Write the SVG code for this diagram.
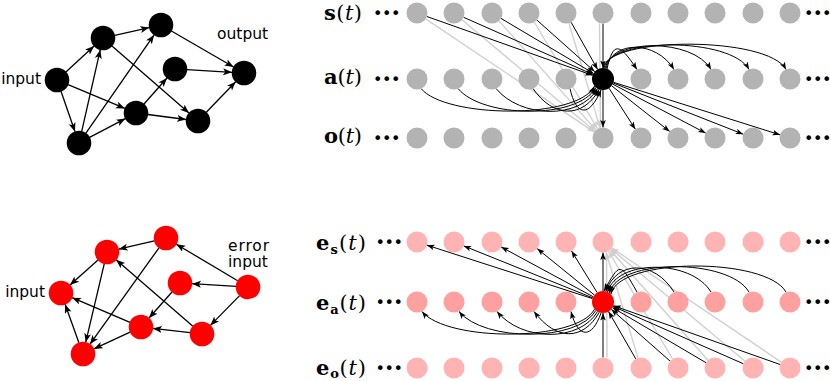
<svg xmlns="http://www.w3.org/2000/svg" width="830" height="381" viewBox="0 0 830 381">
<style>
.lbl{font-family:"DejaVu Sans",sans-serif;font-size:15.5px;fill:#000}
.math{font-family:"DejaVu Serif",serif;font-size:21px;fill:#000}
.bf{font-weight:bold}
.it{font-style:italic}
.dots{font-family:"DejaVu Sans",sans-serif;font-size:16px;fill:#000;letter-spacing:-0.4px}
.gn{fill:#b3b3b3}
.pn{fill:#ffb3b3}
.pa{fill:#ffa0a0}
.L{stroke:#000;stroke-width:1.3;fill:none;marker-end:url(#ahL)}
.k{stroke:#000;stroke-width:1;fill:none;marker-end:url(#ah)}
.g{stroke:#d0d0d0;stroke-width:1.4;fill:none;marker-end:url(#ahg)}
</style>
<defs>
<marker id="ahL" markerUnits="userSpaceOnUse" markerWidth="10" markerHeight="8" refX="9" refY="3.5" orient="auto"><path d="M0,0 L9,3.5 L0,7 L2.2,3.5 z" fill="#000"/></marker>
<marker id="ah" markerUnits="userSpaceOnUse" markerWidth="9" markerHeight="7" refX="7.5" refY="2.8" orient="auto"><path d="M0,0 L7.5,2.8 L0,5.6 L1.8,2.8 z" fill="#000"/></marker>
<marker id="ahg" markerUnits="userSpaceOnUse" markerWidth="9" markerHeight="7" refX="7.5" refY="2.8" orient="auto"><path d="M0,0 L7.5,2.8 L0,5.6 L1.8,2.8 z" fill="#cfcfcf"/></marker>
</defs>

<!-- left graphs: connectors -->
<g id="connectors-left">
<line class="L" x1="65.9" y1="71.9" x2="94.1" y2="46.1"/>
<line class="L" x1="68.1" y1="84.6" x2="124.9" y2="108.4"/>
<line class="L" x1="61" y1="91.3" x2="75" y2="131.7"/>
<line class="L" x1="81.7" y1="131.3" x2="100.3" y2="49.7"/>
<line class="L" x1="85.9" y1="133.1" x2="154.1" y2="34.9"/>
<line class="L" x1="89.6" y1="137.4" x2="125.4" y2="118.6"/>
<line class="L" x1="114.7" y1="35.4" x2="149.3" y2="27.6"/>
<line class="L" x1="112" y1="45.9" x2="189" y2="113.1"/>
<line class="L" x1="171.4" y1="31" x2="233.6" y2="67"/>
<line class="L" x1="144" y1="104" x2="167" y2="78"/>
<line class="L" x1="147.9" y1="114.5" x2="186.1" y2="119.5"/>
<line class="L" x1="187" y1="69.7" x2="232" y2="72.3"/>
<line class="L" x1="206.3" y1="112.3" x2="235.7" y2="81.7"/>

<line class="L" x1="98" y1="260" x2="70" y2="285"/>
<line class="L" x1="130" y1="322.3" x2="72.1" y2="297.7"/>
<line class="L" x1="78.9" y1="342.7" x2="65.1" y2="304.3"/>
<line class="L" x1="104.3" y1="263.7" x2="85.7" y2="342.3"/>
<line class="L" x1="159" y1="247.8" x2="90" y2="344.2"/>
<line class="L" x1="130.1" y1="332.1" x2="93.9" y2="348.9"/>
<line class="L" x1="154.3" y1="240.8" x2="118.7" y2="249.2"/>
<line class="L" x1="192.9" y1="326.2" x2="116.1" y2="259.8"/>
<line class="L" x1="237.7" y1="280.8" x2="176.3" y2="244.2"/>
<line class="L" x1="172" y1="292" x2="149" y2="318"/>
<line class="L" x1="190.1" y1="332.6" x2="152.9" y2="328.4"/>
<line class="L" x1="236" y1="286.3" x2="192" y2="283.7"/>
<line class="L" x1="239.6" y1="295.6" x2="210.4" y2="325.4"/>
</g>

<!-- right grids: connectors -->
<g id="connectors-right">
<!-- top: grey s_i -> o6 -->
<line class="g" x1="425.7" y1="18.9" x2="594.3" y2="132.1"/>
<line class="g" x1="462" y1="19.8" x2="595" y2="131.2"/>
<line class="g" x1="499" y1="20.9" x2="596" y2="130.1"/>
<line class="g" x1="534.3" y1="22" x2="597.7" y2="129"/>
<line class="g" x1="569" y1="23.1" x2="600" y2="127.9"/>
<line class="g" x1="599.5" y1="23.5" x2="600.5" y2="127.5"/>
<!-- top: s_i -> C -->
<line class="k" x1="426.9" y1="16.5" x2="592.6" y2="75.3"/>
<line class="k" x1="463.6" y1="17.3" x2="593" y2="74.5"/>
<line class="k" x1="501" y1="18.4" x2="593.5" y2="73.4"/>
<line class="k" x1="536.8" y1="20" x2="594.8" y2="71.7"/>
<line class="k" x1="571.1" y1="22.2" x2="597.6" y2="69.4"/>
<line class="k" x1="603" y1="23.5" x2="603" y2="68"/>
<!-- top: a_i -> C curves -->
<path class="k" d="M421,88.5 C445,118 577,120 594.6,86.1"/>
<path class="k" d="M458,88.5 C482,118 578,120 595.9,87.4"/>
<path class="k" d="M496,88.5 C520,118 580,120 597.5,88.5"/>
<path class="k" d="M533,88.5 C553,118 583,119 599.2,89.3"/>
<path class="k" d="M570,88.5 C576,116 589,118 601.1,89.8"/>
<!-- top: C -> a_j arcs -->
<path class="k" d="M607,69 C613,42 619,42 637,69.5"/>
<path class="k" d="M606,68.6 C612,40 656,40 674,69.5"/>
<path class="k" d="M605,68.3 C611,38 693,38 711,69.5"/>
<path class="k" d="M604,68.1 C610,37 731,37 749,69.5"/>
<path class="k" d="M603,68 C609,36 768,36 786,69.5"/>
<!-- top: C -> o_j -->
<line class="k" x1="603" y1="90" x2="603" y2="127.5"/>
<line class="k" x1="609" y1="88.2" x2="635.3" y2="129.2"/>
<line class="k" x1="611.6" y1="85.8" x2="669.7" y2="131.5"/>
<line class="k" x1="612.7" y1="84.1" x2="705.7" y2="133.1"/>
<line class="k" x1="613.2" y1="83" x2="743.2" y2="134.2"/>
<line class="k" x1="613.5" y1="82.3" x2="780" y2="134.8"/>

<!-- bottom: grey eo_j -> es6 -->
<line class="g" x1="607" y1="357.5" x2="606.5" y2="253"/>
<line class="g" x1="638" y1="357.9" x2="606" y2="252"/>
<line class="g" x1="672.6" y1="359" x2="608.4" y2="251"/>
<line class="g" x1="708" y1="360.2" x2="610" y2="249.8"/>
<line class="g" x1="745" y1="361.2" x2="611" y2="248.8"/>
<line class="g" x1="781.3" y1="362.1" x2="611.7" y2="247.9"/>
<!-- bottom: R -> es_i -->
<line class="k" x1="592.5" y1="298.6" x2="427" y2="245.2"/>
<line class="k" x1="592.8" y1="297.9" x2="463.7" y2="245.9"/>
<line class="k" x1="593.3" y1="296.8" x2="501.2" y2="247"/>
<line class="k" x1="594.5" y1="295.1" x2="537.2" y2="248.6"/>
<line class="k" x1="597.2" y1="292.6" x2="571.5" y2="250.9"/>
<line class="k" x1="603" y1="291" x2="603" y2="252.5"/>
<!-- bottom: R -> ea_i curves -->
<path class="k" d="M594.6,309.1 C577,342 447,342 422,311.5"/>
<path class="k" d="M595.9,310.4 C578,342 484,342 459,311.5"/>
<path class="k" d="M597.5,311.5 C580,342 522,342 497,311.5"/>
<path class="k" d="M599.2,312.3 C583,341 556,341 534,311.5"/>
<path class="k" d="M601.1,312.8 C592,339 578,339 571,311.5"/>
<!-- bottom: ea_j -> R arcs -->
<path class="k" d="M637,292 C620,262 620,262 604,291"/>
<path class="k" d="M674,292 C654,260 617,260 605.8,291.4"/>
<path class="k" d="M711,292 C691,259 617,259 607.6,292"/>
<path class="k" d="M749,292 C729,258 618,258 609.3,293"/>
<path class="k" d="M786,292 C766,257 619,257 610.8,294.2"/>
<!-- bottom: eo_j -> R -->
<line class="k" x1="603" y1="357.5" x2="603" y2="313"/>
<line class="k" x1="635.8" y1="358.9" x2="608.5" y2="311.5"/>
<line class="k" x1="670.1" y1="361.1" x2="611.3" y2="309.3"/>
<line class="k" x1="706" y1="362.7" x2="612.5" y2="307.6"/>
<line class="k" x1="743.4" y1="363.8" x2="613.1" y2="306.4"/>
<line class="k" x1="780.1" y1="364.5" x2="613.4" y2="305.7"/>
</g>

<!-- top-left graph nodes -->
<g id="t-input"><circle cx="57" cy="80" r="12.3"/></g>
<g id="t-a"><circle cx="103" cy="38" r="12.3"/></g>
<g id="t-b"><circle cx="161" cy="25" r="12.3"/></g>
<g id="t-m"><circle cx="175" cy="69" r="12.3"/></g>
<g id="t-output"><circle cx="244" cy="73" r="12.3"/></g>
<g id="t-c"><circle cx="136" cy="113" r="12.3"/></g>
<g id="t-d"><circle cx="198" cy="121" r="12.3"/></g>
<g id="t-e"><circle cx="79" cy="143" r="12.3"/></g>
<text class="lbl" x="41" y="84" text-anchor="end">input</text>
<text class="lbl" x="217" y="39">output</text>

<!-- bottom-left graph nodes -->
<g id="b-input"><circle cx="61" cy="293" r="12.3" fill="#ff0000"/></g>
<g id="b-a"><circle cx="107" cy="252" r="12.3" fill="#ff0000"/></g>
<g id="b-b"><circle cx="166" cy="238" r="12.3" fill="#ff0000"/></g>
<g id="b-m"><circle cx="180" cy="283" r="12.3" fill="#ff0000"/></g>
<g id="b-error"><circle cx="248" cy="287" r="12.3" fill="#ff0000"/></g>
<g id="b-c"><circle cx="141" cy="327" r="12.3" fill="#ff0000"/></g>
<g id="b-d"><circle cx="202" cy="334" r="12.3" fill="#ff0000"/></g>
<g id="b-e"><circle cx="83" cy="354" r="12.3" fill="#ff0000"/></g>
<text class="lbl" x="45" y="297" text-anchor="end">input</text>
<text class="lbl" x="228" y="250.5" font-size="15" letter-spacing="0.9">error</text>
<text class="lbl" x="228" y="267" font-size="15">input</text>

<!-- top grid nodes -->
<g id="s1"><circle class="gn" cx="417" cy="13" r="10.5"/></g>
<g id="s2"><circle class="gn" cx="454" cy="13" r="10.5"/></g>
<g id="s3"><circle class="gn" cx="492" cy="13" r="10.5"/></g>
<g id="s4"><circle class="gn" cx="529" cy="13" r="10.5"/></g>
<g id="s5"><circle class="gn" cx="566" cy="13" r="10.5"/></g>
<g id="s6"><circle class="gn" cx="603" cy="13" r="10.5"/></g>
<g id="s7"><circle class="gn" cx="641" cy="13" r="10.5"/></g>
<g id="s8"><circle class="gn" cx="678" cy="13" r="10.5"/></g>
<g id="s9"><circle class="gn" cx="715" cy="13" r="10.5"/></g>
<g id="s10"><circle class="gn" cx="753" cy="13" r="10.5"/></g>
<g id="s11"><circle class="gn" cx="790" cy="13" r="10.5"/></g>
<g id="a1"><circle class="gn" cx="417" cy="79" r="10.5"/></g>
<g id="a2"><circle class="gn" cx="454" cy="79" r="10.5"/></g>
<g id="a3"><circle class="gn" cx="492" cy="79" r="10.5"/></g>
<g id="a4"><circle class="gn" cx="529" cy="79" r="10.5"/></g>
<g id="a5"><circle class="gn" cx="566" cy="79" r="10.5"/></g>
<g id="a6"><circle cx="603" cy="79" r="11" fill="#000"/></g>
<g id="a7"><circle class="gn" cx="641" cy="79" r="10.5"/></g>
<g id="a8"><circle class="gn" cx="678" cy="79" r="10.5"/></g>
<g id="a9"><circle class="gn" cx="715" cy="79" r="10.5"/></g>
<g id="a10"><circle class="gn" cx="753" cy="79" r="10.5"/></g>
<g id="a11"><circle class="gn" cx="790" cy="79" r="10.5"/></g>
<g id="o1"><circle class="gn" cx="417" cy="138" r="10.5"/></g>
<g id="o2"><circle class="gn" cx="454" cy="138" r="10.5"/></g>
<g id="o3"><circle class="gn" cx="492" cy="138" r="10.5"/></g>
<g id="o4"><circle class="gn" cx="529" cy="138" r="10.5"/></g>
<g id="o5"><circle class="gn" cx="566" cy="138" r="10.5"/></g>
<g id="o6"><circle class="gn" cx="603" cy="138" r="10.5"/></g>
<g id="o7"><circle class="gn" cx="641" cy="138" r="10.5"/></g>
<g id="o8"><circle class="gn" cx="678" cy="138" r="10.5"/></g>
<g id="o9"><circle class="gn" cx="715" cy="138" r="10.5"/></g>
<g id="o10"><circle class="gn" cx="753" cy="138" r="10.5"/></g>
<g id="o11"><circle class="gn" cx="790" cy="138" r="10.5"/></g>

<!-- bottom grid nodes -->
<g id="es1"><circle class="pn" cx="417" cy="242" r="10.5"/></g>
<g id="es2"><circle class="pn" cx="454" cy="242" r="10.5"/></g>
<g id="es3"><circle class="pn" cx="492" cy="242" r="10.5"/></g>
<g id="es4"><circle class="pn" cx="529" cy="242" r="10.5"/></g>
<g id="es5"><circle class="pn" cx="566" cy="242" r="10.5"/></g>
<g id="es6"><circle class="pn" cx="603" cy="242" r="10.5"/></g>
<g id="es7"><circle class="pn" cx="641" cy="242" r="10.5"/></g>
<g id="es8"><circle class="pn" cx="678" cy="242" r="10.5"/></g>
<g id="es9"><circle class="pn" cx="715" cy="242" r="10.5"/></g>
<g id="es10"><circle class="pn" cx="753" cy="242" r="10.5"/></g>
<g id="es11"><circle class="pn" cx="790" cy="242" r="10.5"/></g>
<g id="ea1"><circle class="pa" cx="417" cy="302" r="10.5"/></g>
<g id="ea2"><circle class="pa" cx="454" cy="302" r="10.5"/></g>
<g id="ea3"><circle class="pa" cx="492" cy="302" r="10.5"/></g>
<g id="ea4"><circle class="pa" cx="529" cy="302" r="10.5"/></g>
<g id="ea5"><circle class="pa" cx="566" cy="302" r="10.5"/></g>
<g id="ea6"><circle cx="603" cy="302" r="11" fill="#ff0000"/></g>
<g id="ea7"><circle class="pa" cx="641" cy="302" r="10.5"/></g>
<g id="ea8"><circle class="pa" cx="678" cy="302" r="10.5"/></g>
<g id="ea9"><circle class="pa" cx="715" cy="302" r="10.5"/></g>
<g id="ea10"><circle class="pa" cx="753" cy="302" r="10.5"/></g>
<g id="ea11"><circle class="pa" cx="790" cy="302" r="10.5"/></g>
<g id="eo1"><circle class="pn" cx="417" cy="368" r="10.5"/></g>
<g id="eo2"><circle class="pn" cx="454" cy="368" r="10.5"/></g>
<g id="eo3"><circle class="pn" cx="492" cy="368" r="10.5"/></g>
<g id="eo4"><circle class="pn" cx="529" cy="368" r="10.5"/></g>
<g id="eo5"><circle class="pn" cx="566" cy="368" r="10.5"/></g>
<g id="eo6"><circle class="pn" cx="603" cy="368" r="10.5"/></g>
<g id="eo7"><circle class="pn" cx="641" cy="368" r="10.5"/></g>
<g id="eo8"><circle class="pn" cx="678" cy="368" r="10.5"/></g>
<g id="eo9"><circle class="pn" cx="715" cy="368" r="10.5"/></g>
<g id="eo10"><circle class="pn" cx="753" cy="368" r="10.5"/></g>
<g id="eo11"><circle class="pn" cx="790" cy="368" r="10.5"/></g>

<!-- row labels -->
<g id="row-labels">
<text class="math" x="324" y="19.5" font-size="20" textLength="38" lengthAdjust="spacing"><tspan class="bf">s</tspan>(<tspan class="it">t</tspan>)</text>
<text class="math" x="324" y="84" textLength="38" lengthAdjust="spacing"><tspan class="bf">a</tspan>(<tspan class="it">t</tspan>)</text>
<text class="math" x="324" y="143" textLength="38" lengthAdjust="spacing"><tspan class="bf">o</tspan>(<tspan class="it">t</tspan>)</text>
<text class="math" x="316" y="250" textLength="50" lengthAdjust="spacing"><tspan class="bf">e</tspan><tspan class="bf" font-size="13" dy="3.5">s</tspan><tspan dy="-3.5">(</tspan><tspan class="it">t</tspan>)</text>
<text class="math" x="316" y="310" textLength="50" lengthAdjust="spacing"><tspan class="bf">e</tspan><tspan class="bf" font-size="13" dy="3.5">a</tspan><tspan dy="-3.5">(</tspan><tspan class="it">t</tspan>)</text>
<text class="math" x="316" y="374.5" textLength="50" lengthAdjust="spacing"><tspan class="bf">e</tspan><tspan class="bf" font-size="13" dy="3">o</tspan><tspan dy="-3">(</tspan><tspan class="it">t</tspan>)</text>
</g>
<g id="ellipses">
<text class="dots" x="373" y="18.5">•••</text>
<text class="dots" x="373" y="84.5">•••</text>
<text class="dots" x="373" y="143.5">•••</text>
<text class="dots" x="804" y="18.5">•••</text>
<text class="dots" x="804" y="84.5">•••</text>
<text class="dots" x="804" y="143.5">•••</text>
<text class="dots" x="375.5" y="247.5">•••</text>
<text class="dots" x="375.5" y="307.5">•••</text>
<text class="dots" x="375.5" y="373.5">•••</text>
<text class="dots" x="804" y="247.5">•••</text>
<text class="dots" x="804" y="307.5">•••</text>
<text class="dots" x="804" y="373.5">•••</text>
</g>
</svg>
